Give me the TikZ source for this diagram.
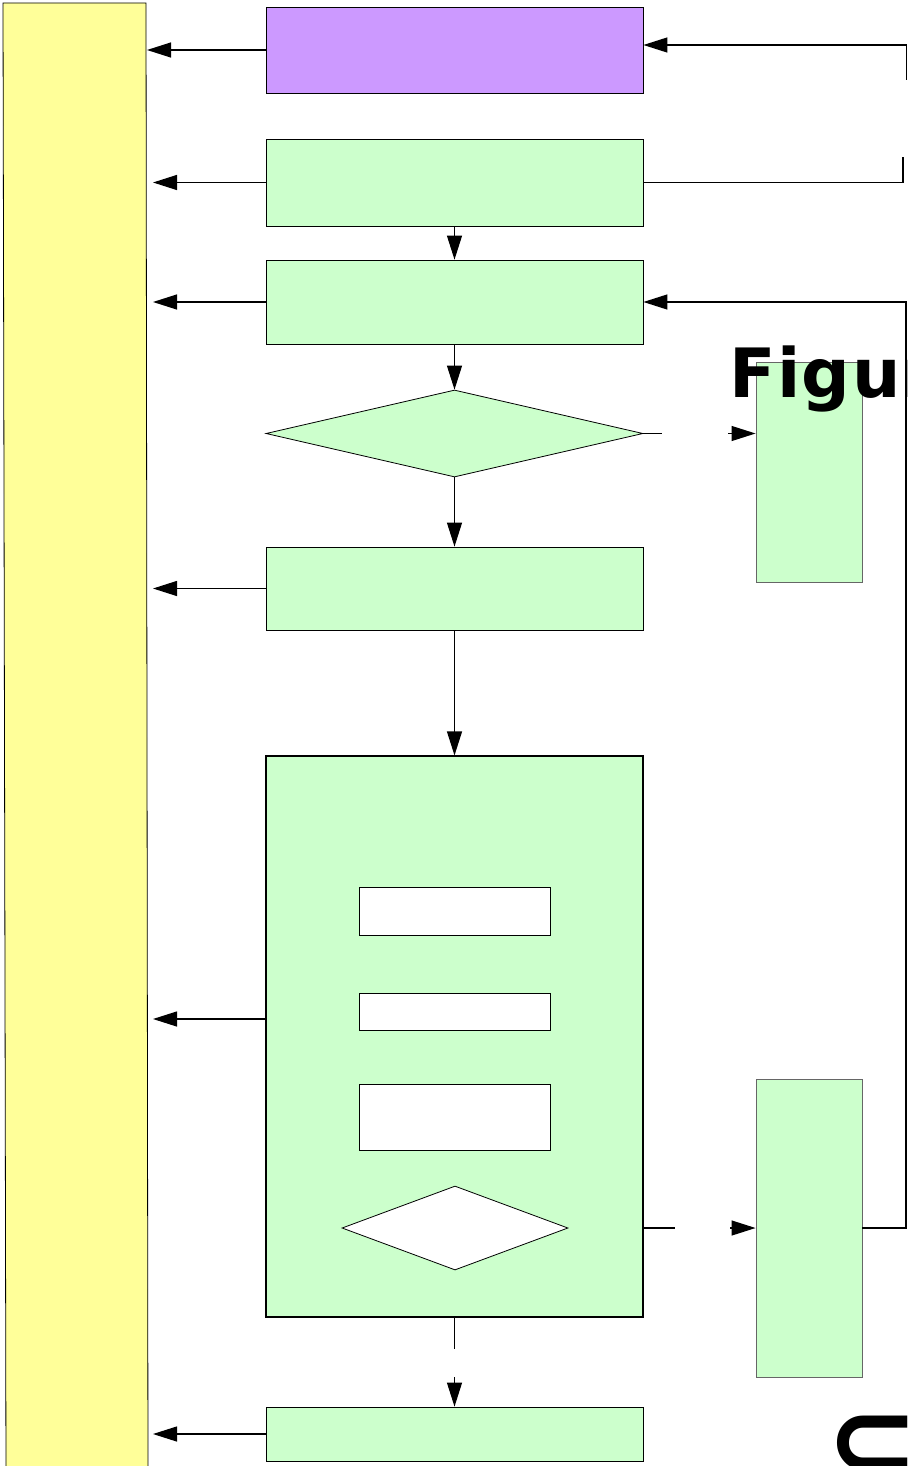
\documentclass[tikz,border=0pt]{standalone}
\usepackage{fontspec}
\newfontfamily\figfont{DejaVu Sans Bold}
\usetikzlibrary{arrows.meta,shapes.geometric}
\definecolor{yel}{HTML}{FFFF99}
\definecolor{pur}{HTML}{CC99FF}
\definecolor{grn}{HTML}{CCFFCC}
\tikzset{
  box/.style={draw=black,line width=0.8pt,fill=grn,inner sep=0pt,minimum width=377pt},
  wbox/.style={draw=black,line width=0.7pt,fill=white,inner sep=0pt,minimum width=191pt},
  rbox/.style={draw=black!60,line width=0.9pt,fill=grn,inner sep=0pt,minimum width=106pt},
  dia/.style={shape=diamond,draw=black,line width=0.8pt,inner sep=0pt},
  arr/.style={line width=1.2pt,-{Triangle[length=24pt,width=15pt]}},
  ln/.style={line width=1.2pt}
}
\begin{document}
\begin{tikzpicture}[x=1pt,y=-1pt]
\useasboundingbox (0,0) rectangle (907,1466);
\clip (0,0) rectangle (907,1466);
% yellow side bar
\draw[fill=yel,line width=0.8pt] (3,3) coordinate (ya) -- (146,3) -- (148,1475) -- (6,1475) -- cycle;
\coordinate (yp) at (147,0);
\coordinate (yl) at (153,0);
% main column
\node[box,fill=pur,minimum height=86pt] (pu) at (454.5,50) {};
\node[box,minimum height=87pt] (g1) at (454.5,182.5) {};
\node[box,minimum height=84pt] (g2) at (454.5,302) {};
\node[dia,fill=grn,minimum width=377pt,minimum height=87pt] (d1) at (454.5,433.5) {};
\node[box,minimum height=83pt] (g3) at (454.5,588.5) {};
\node[box,line width=1.2pt,minimum height=561pt] (big) at (454.5,1036.5) {};
\node[wbox,minimum height=48pt] (w1) at (454.5,911) {};
\node[wbox,minimum height=37pt] (w2) at (454.5,1011.5) {};
\node[wbox,minimum height=66pt] (w3) at (454.5,1117) {};
\node[dia,fill=white,minimum width=226pt,minimum height=84pt] (d2) at (455,1228) {};
\node[box,minimum height=54pt] (gb) at (454.5,1434) {};
% right boxes
\node[rbox,minimum height=220pt] (r1) at (809,472) {};
\node[rbox,minimum height=298pt] (r2) at (809,1228) {};
% arrows to the yellow bar
\draw[arr] (pu.west) -- (pu.west -| yp);
\draw[arr] (g1.west) -- (g1.west -| yl);
\draw[arr] (g2.west) -- (g2.west -| yl);
\draw[arr] (g3.west) -- (g3.west -| yl);
\coordinate (bw) at (266,1019);
\draw[arr] (bw) -- (bw -| yl);
\draw[arr] (gb.west) -- (gb.west -| yl);
% vertical flow
\draw[arr] (g1.south) -- (g2.north);
\draw[arr] (g2.south) -- (d1.north);
\draw[arr] (d1.south) -- (g3.north);
\draw[arr] (g3.south) -- (big.north);
\draw[ln] (big.south) -- ++(0,31);
\coordinate (bg) at (454.5,1377);
\draw[arr] (bg) -- (gb.north);
% to right boxes (broken)
\draw[ln] (d1.east) -- ++(19,0);
\coordinate (d1a) at (728,433.5);
\draw[arr] (d1a) -- (d1a -| r1.west);
\draw[ln] (big.east |- d2.east) -- ++(31,0);
\coordinate (d2a) at (730,1228);
\draw[arr] (d2a) -- (r2.west);
% loop back to g2
\coordinate (rr) at (906,1228);
\draw[arr] (r2.east) -- (rr) -- (rr |- g2.east) -- (g2.east);
% top loop (broken)
\coordinate (tp) at (906.5,80);
\draw[arr] (tp) -- (906.5,45) coordinate (tq) -- (tq -| pu.east);
\draw[ln] (g1.east) -- (903,182.5) -- (903,157);
% texts
\node[font=\figfont\fontsize{68}{68}\selectfont,anchor=base west,inner sep=0pt] (fig) at (729,397) {F\kern1.5pt i\kern1.5pt g\kern1.5pt u\kern1.5pt re};
\node[font=\figfont\fontsize{110}{110}\selectfont,anchor=north west,inner sep=0pt] (cap) at (826,1416) {⊂};
\end{tikzpicture}
\end{document}
